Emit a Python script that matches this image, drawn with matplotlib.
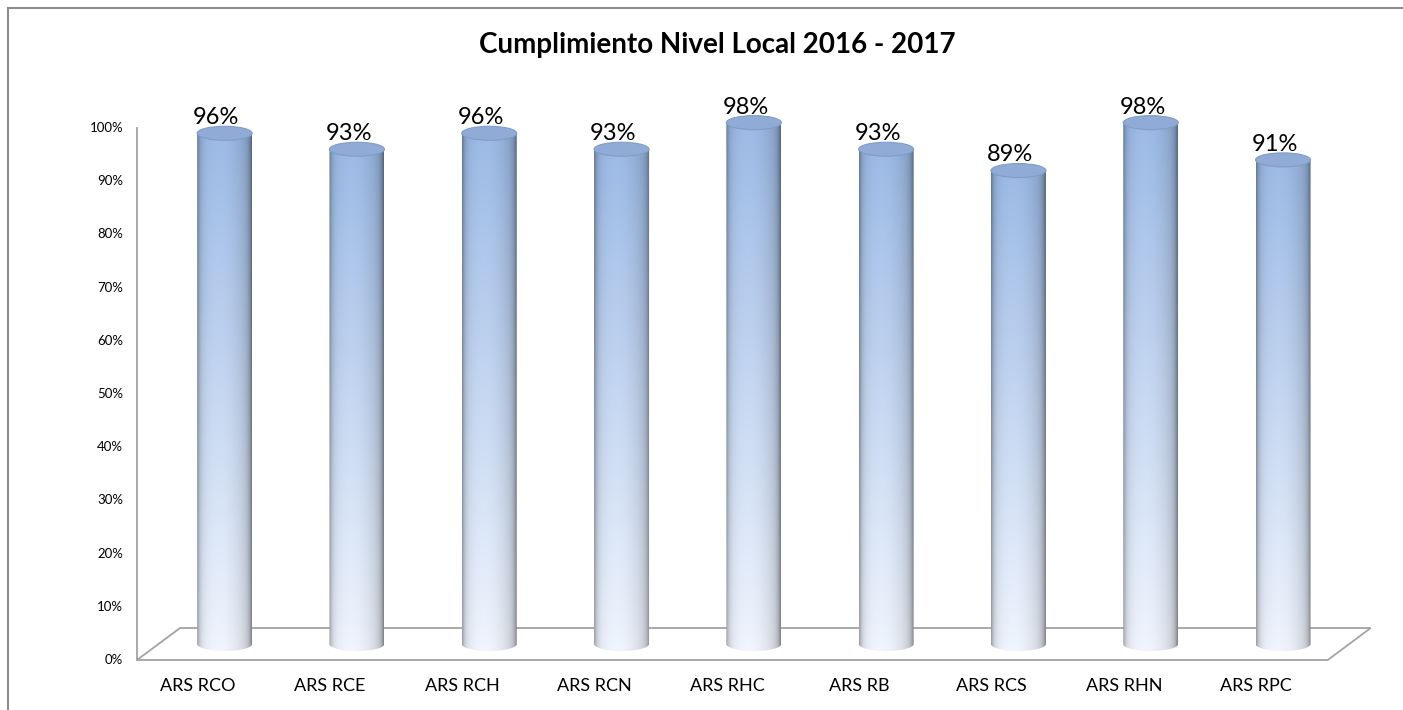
import numpy as np
import matplotlib
matplotlib.use("Agg")
import matplotlib.pyplot as plt
from matplotlib.patches import Ellipse, Polygon, PathPatch
from matplotlib.path import Path
from matplotlib.lines import Line2D

# data
categories = ["ARS RCO", "ARS RCE", "ARS RCH", "ARS RCN", "ARS RHC",
              "ARS RB", "ARS RCS", "ARS RHN", "ARS RPC"]
values = [96, 93, 96, 93, 98, 93, 89, 98, 91]
y_ticks = [0, 10, 20, 30, 40, 50, 60, 70, 80, 90, 100]
title = "Cumplimiento Nivel Local 2016 - 2017"

plt.rcParams['font.family'] = ['Lato', 'DejaVu Sans']

W, H = 1403, 710
fig = plt.figure(figsize=(W / 100, H / 100), dpi=100)
ax = fig.add_axes([0, 0, 1, 1])

# pixel scale of the plot: one category = 132.3 px, 1% = 5.32 px
cat_px = 132.3
pct_px = 5.32
x0_px, y0_px = 137, 660
ax.set_xlim(-0.5 - x0_px / cat_px, -0.5 + (W - x0_px) / cat_px)
ax.set_ylim(-(H - y0_px) / pct_px, y0_px / pct_px)
ax.axis("off")

n = len(categories)
dx = 43 / cat_px      # depth offset (x)
dy = 32 / pct_px      # depth offset (y)
hw = 27.5 / cat_px    # cylinder half width
eh = 7.0 / pct_px     # ellipse half height

line_col = "#a3a3a3"

# floor
floor = Polygon([(-0.5, 0), (n - 0.5, 0), (n - 0.5 + dx, dy), (-0.5 + dx, dy)],
                closed=True, facecolor="white", edgecolor=line_col, lw=1.3, zorder=1)
ax.add_patch(floor)
# vertical axis line
ax.plot([-0.5, -0.5], [0, 100], color=line_col, lw=1.3, zorder=1)

# y tick labels
for t in y_ticks:
    ax.text(-0.5 - 14 / cat_px, t, f"{t}%", ha="right", va="center", fontsize=9.5)

# cylinder shading
rows, cols = 200, 120
u = np.linspace(-1, 1, cols)
shade = 1 - 0.2 * ((u + 0.2) / 1.2) ** 2 - 0.28 * np.abs(u) ** 10
top_col = np.array([0.61, 0.73, 0.90])
bot_col = np.array([0.94, 0.96, 0.995])
tt = np.linspace(0, 1, rows)[:, None]
base = top_col * (1 - tt) + bot_col * tt
img = np.clip(base[:, None, :] * shade[None, :, None], 0, 1)

theta = np.linspace(np.pi, 2 * np.pi, 60)
for i, v in enumerate(values):
    cx = i + dx / 2
    yb = dy / 2
    yt = v + dy / 2
    # body outline: bottom half ellipse + straight sides
    pts = [(cx + hw * np.cos(a), yb + eh * np.sin(a)) for a in theta]
    pts += [(cx + hw, yt), (cx - hw, yt), pts[0]]
    body = PathPatch(Path(pts, closed=True), facecolor="none", edgecolor="none", zorder=3)
    ax.add_patch(body)
    im = ax.imshow(img, extent=[cx - hw, cx + hw, yb - eh, yt], aspect="auto",
                   interpolation="bilinear", zorder=3)
    im.set_clip_path(body)
    top = Ellipse((cx, yt), 2 * hw, 2 * eh, facecolor=(0.56, 0.67, 0.84),
                  edgecolor=(0.50, 0.61, 0.78), lw=0.8, zorder=4)
    ax.add_patch(top)
    ax.text(i + 0.1, yt + eh + 0.4, f"{v}%", ha="center", va="baseline", fontsize=17)

# category labels
for i, c in enumerate(categories):
    ax.text(i - 0.04, -26 / pct_px, c, ha="center", va="center", fontsize=13)

ax.text(-0.5 + (717 - x0_px) / cat_px, (y0_px - 45) / pct_px, title,
        ha="center", va="center", fontsize=20, fontweight="bold")

# chart border (top and left visible)
fig.add_artist(Line2D([8 / W, 1], [1 - 8 / H, 1 - 8 / H], transform=fig.transFigure,
                      color="#8c8c8c", lw=1.5))
fig.add_artist(Line2D([8 / W, 8 / W], [0, 1 - 8 / H], transform=fig.transFigure,
                      color="#8c8c8c", lw=1.5))

fig.savefig("out.png", dpi=100)
